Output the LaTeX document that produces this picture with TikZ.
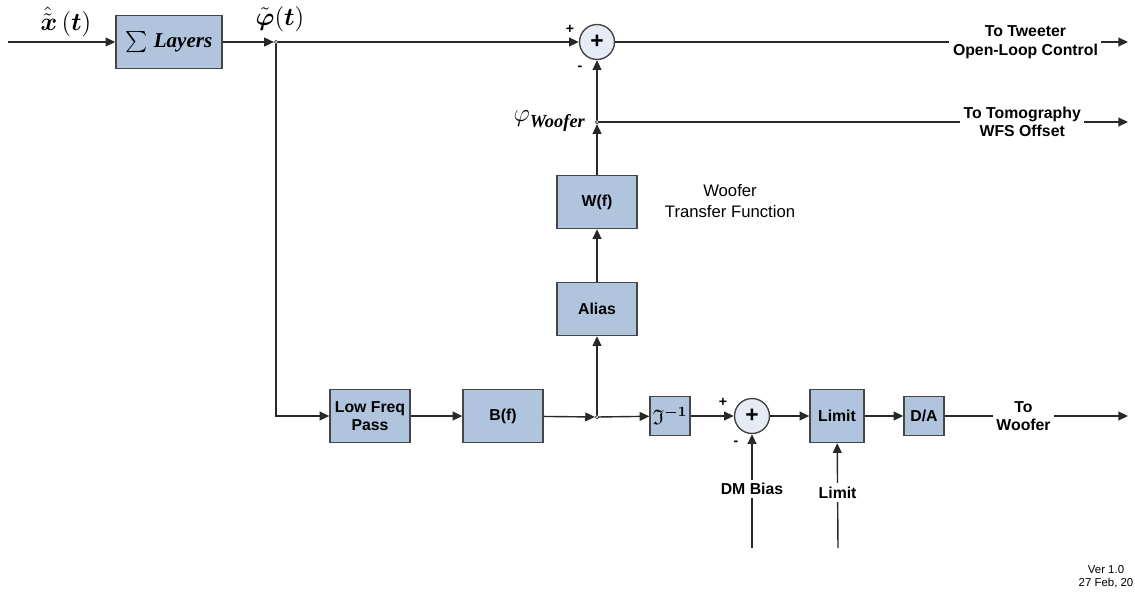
\documentclass[tikz,border=0pt]{standalone}
\usepackage{amsmath,amssymb}
\usepackage{fontspec}
\setmainfont{Liberation Sans}
\newfontfamily\timesfont{Liberation Serif}
\usetikzlibrary{arrows.meta, positioning, calc}
\definecolor{blockfill}{RGB}{176, 196, 222}
\definecolor{blockborder}{RGB}{70, 70, 70}
\definecolor{sumfill}{RGB}{230, 235, 245}
\definecolor{wire}{RGB}{40, 40, 40}
\tikzset{
  font=\bfseries\fontsize{9}{10.5}\selectfont,
  block/.style={
    rectangle, draw=blockborder, fill=blockfill, line width=0.8pt,
    minimum width=1.6cm, minimum height=1.06cm, inner sep=1pt, align=center
  },
  smallblock/.style={block, minimum width=0.8cm, minimum height=0.78cm},
  sumnode/.style={
    circle, draw=blockborder, fill=sumfill, line width=0.8pt,
    minimum size=0.7cm, inner sep=0pt, font=\bfseries\fontsize{13}{13}\selectfont
  },
  junction/.style={
    circle, draw=wire, fill=white, line width=0.4pt, minimum size=0.07cm, inner sep=0pt
  },
  signal/.style={
    draw=wire, line width=0.8pt, -{Triangle[length=5.5pt, width=5pt]}
  },
  outlabel/.style={fill=white, inner sep=2pt, align=center},
  signlabel/.style={font=\bfseries\fontsize{8}{8}\selectfont, inner sep=0pt},
  mathlabel/.style={font=\fontsize{14}{16}\selectfont, inner sep=1pt}
}

\begin{document}
\begin{tikzpicture}[x=0.02cm, y=-0.02cm]

  \useasboundingbox (0,0) rectangle (1135,592);

  % Upper path: layers sum -> tweeter
  \coordinate (xin) at (8,42);
  \node[block, minimum width=2.12cm, font=\fontsize{12}{14}\selectfont] (layers) at (169,42)
    {$\sum$ {\timesfont\bfseries\itshape Layers}};
  \node[junction] (jphi) at (276,42) {};
  \node[sumnode] (sumtop) at (597,42) {+};
  \coordinate (tweeter) at (1128,42);

  \node[mathlabel] (xlabel) at (66,22) {$\hat{\tilde{\boldsymbol{x}}}\,(\boldsymbol{t})$};
  \node[mathlabel] (philabel) at (280,19) {$\tilde{\boldsymbol{\varphi}}(\boldsymbol{t})$};
  \node[signlabel] at (570,29) {+};
  \node[signlabel] at (580,68) {-};

  % Woofer feed-forward column
  \node[junction] (jwoof) at (597,122) {};
  \coordinate (tomo) at (1128,122);
  \node[block] (wf) at (597,202) {W(f)};
  \node[block] (alias) at (597,309) {Alias};
  \node[mathlabel, anchor=east] (wooflabel) at (587,121)
    {$\varphi$\raisebox{-3.5pt}{\timesfont\bfseries\itshape\fontsize{10.5}{12}\selectfont Woofer}};
  \node[font=\fontsize{9.5}{12}\selectfont, align=center] at (730,201)
    {Woofer\\Transfer Function};

  % Lower path: low pass -> woofer
  \node[block, font=\bfseries\fontsize{9}{10}\selectfont] (lfp) at (370,416) {Low Freq\\Pass};
  \node[block] (bf) at (503,416) {B(f)};
  \node[junction] (jb) at (597,417) {};
  \node[smallblock, font=\fontsize{12}{13}\selectfont] (finv) at (670,416) {$\mathfrak{I}^{\boldsymbol{-1}}$};
  \node[sumnode] (sumbot) at (752,416) {+};
  \node[block, minimum width=1.08cm] (lim) at (837,416) {Limit};
  \node[smallblock] (da) at (924,416) {D/A};
  \coordinate (woofer) at (1128,416);
  \coordinate (bias) at (752,548);
  \coordinate (limin) at (838,548);
  \node[signlabel] at (723,402) {+};
  \node[signlabel] at (736,443) {-};

  % Connectors
  \draw[signal] (xin) -- (layers);
  \draw[signal] (layers) -- (jphi);
  \draw[signal] (jphi) -- (sumtop);
  \draw[signal] (sumtop) -- (tweeter)
    node[outlabel, pos=0.80] {To Tweeter\\Open-Loop Control};
  \draw[signal] (jphi) |- (lfp);
  \draw[signal] (lfp) -- (bf);
  \draw[signal] (bf) -- (jb);
  \draw[signal] (jb) -- (alias);
  \draw[signal] (alias) -- (wf);
  \draw[signal] (wf) -- (jwoof);
  \draw[signal] (jwoof) -- (sumtop);
  \draw[signal] (jwoof) -- (tomo)
    node[outlabel, pos=0.80] {To Tomography\\WFS Offset};
  \draw[signal] (jb) -- (finv);
  \draw[signal] (finv) -- (sumbot);
  \draw[signal] (sumbot) -- (lim);
  \draw[signal] (lim) -- (da);
  \draw[signal] (da) -- (woofer)
    node[outlabel, pos=0.43] {To\\Woofer};
  \draw[signal] (bias) -- (sumbot)
    node[outlabel, pos=0.52] {DM Bias};
  \draw[signal] (limin) -- (lim)
    node[outlabel, pos=0.53] {Limit};

  % Version stamp
  \node[font=\fontsize{6.5}{7.5}\selectfont, align=center] at (1106,577)
    {Ver 1.0\\27 Feb, 20};

\end{tikzpicture}
\end{document}
